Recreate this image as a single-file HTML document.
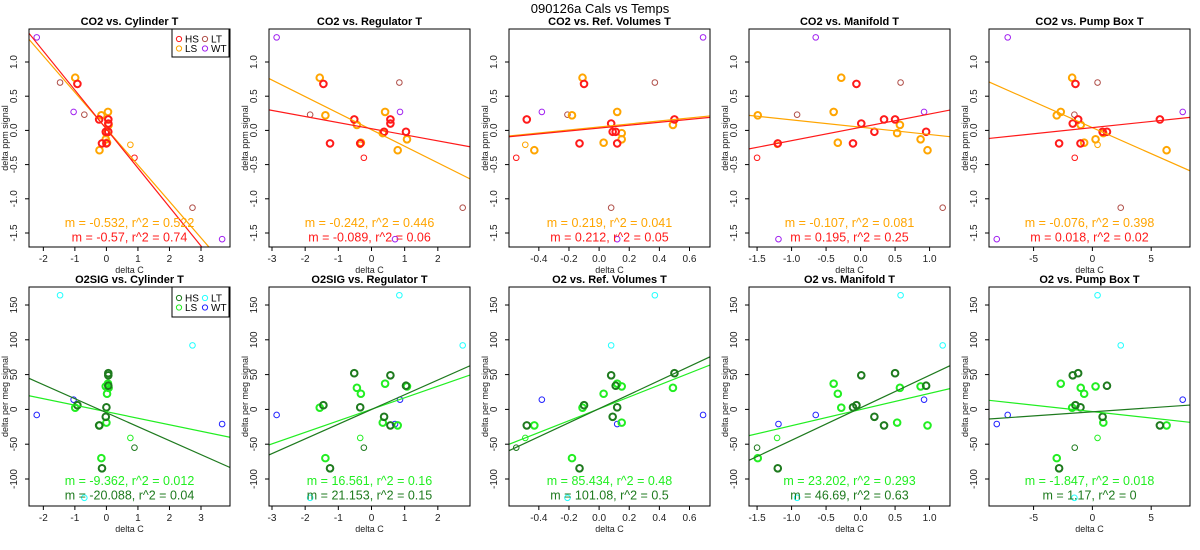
<!DOCTYPE html>
<html><head><meta charset="utf-8"><style>
body{margin:0;background:#fff;}
svg{display:block;font-family:"Liberation Sans",Arial,sans-serif;}
</style></head><body>
<svg id="chart" width="1200" height="550" viewBox="0 0 1200 550">
<text x="600" y="13" text-anchor="middle" font-size="13">090126a   Cals vs Temps</text>
</svg>
<script>
// ---- data ----
const temps = ["Cylinder T","Regulator T","Ref. Volumes T","Manifold T","Pump Box T"];
const xDomains = [[-2.455,3.92],[-3.09,2.97],[-0.598,0.736],[-1.617,1.296],[-8.79,8.30]];
const xTicks = [[-2,-1,0,1,2,3],[-3,-2,-1,0,1,2],[-0.4,-0.2,0,0.2,0.4,0.6],[-1.5,-1,-0.5,0,0.5,1],[-5,0,5]];
const xTickDigits = [0,0,1,1,0];
const topTitles = ["CO2 vs. Cylinder T","CO2 vs. Regulator T","CO2 vs. Ref. Volumes T","CO2 vs. Manifold T","CO2 vs. Pump Box T"];
const botTitles = ["O2SIG vs. Cylinder T","O2SIG vs. Regulator T","O2 vs. Ref. Volumes T","O2 vs. Manifold T","O2 vs. Pump Box T"];
const hsX = [
 [0.06,0.06,-0.92,0.0,-0.02,-0.23,-0.14,0.06],
 [-0.52,0.57,-1.45,-0.34,0.38,0.57,-1.25,1.04],
 [0.50,0.08,-0.10,0.12,0.09,-0.48,-0.13,0.11],
 [0.50,0.01,-0.06,-0.11,0.20,0.34,-1.20,0.95],
 [-1.21,-1.67,-1.44,-1.01,0.87,5.74,-2.83,1.24]];
const hsCO2 = [0.16,0.10,0.68,-0.19,-0.02,0.16,-0.19,-0.02];
const hsO2 = [52,49,6,3,-10.6,-23,-84.6,34];
const lsX = [
 [-0.99,-0.16,0.05,0.07,0.00,0.02,-0.02,-0.22],
 [-1.56,-1.39,0.41,-0.44,0.34,-0.32,1.07,0.79],
 [-0.11,-0.18,0.12,0.49,0.15,0.03,0.15,-0.43],
 [-0.28,-1.49,-0.39,0.57,0.53,-0.33,0.87,0.97],
 [-1.72,-3.03,-2.69,-0.99,0.93,-0.70,0.27,6.31]];
const lsCO2 = [0.77,0.22,0.27,0.08,-0.04,-0.18,-0.13,-0.29];
const lsO2 = [2.5,-70,37,31,-19,22.5,33,-23];
const thinGroup = ["LT","LT","LT","WT","WT","WT","HSt","LSt"];
const thinX = [
 [-1.47,-0.70,2.73,-2.21,-1.04,3.67,0.89,0.76],
 [0.84,-1.85,2.75,-2.86,0.86,0.71,-0.23,-0.34],
 [0.37,-0.21,0.08,0.69,-0.38,0.12,-0.55,-0.49],
 [0.58,-0.92,1.19,-0.65,0.92,-1.19,-1.50,-1.21],
 [0.44,-1.53,2.41,-7.2,7.68,-8.13,-1.5,0.44]];
const thinCO2 = [0.70,0.23,-1.13,1.36,0.27,-1.59,-0.40,-0.21];
const thinO2 = [164,-127,92,-8,14,-21,-55,-41];
const co2HSslope = [-0.57,-0.089,0.212,0.195,0.018];
const co2HSint = [0.02,0.025,0.034,0.045,0.041];
const co2LSslope = [-0.532,-0.242,0.219,-0.107,-0.076];
const co2LSint = [0.025,0.01,0.05,0.047,0.04];
const co2HSr2 = ["0.74","0.06","0.05","0.25","0.02"];
const co2LSr2 = ["0.522","0.446","0.041","0.081","0.398"];
const o2HSslope = [-20.088,21.153,101.08,46.69,1.17];
const o2HSint = [-4.7,-0.1,1.1,2.3,-3.5];
const o2LSslope = [-9.362,16.561,85.434,23.202,-1.847];
const o2LSint = [-3.3,0.2,0.9,-0.2,-3.2];
const o2HSr2 = ["0.04","0.15","0.5","0.63","0"];
const o2LSr2 = ["0.012","0.16","0.48","0.293","0.018"];
const topYTicks = [-1.5,-1,-0.5,0,0.5,1];
const botYTicks = [-100,-50,0,50,100,150];

// ---- rendering ----
const NS="http://www.w3.org/2000/svg";
const svg=document.getElementById('chart');
function mk(tag,attrs,parent){const e=document.createElementNS(NS,tag);for(const k in attrs)e.setAttribute(k,attrs[k]);(parent||svg).appendChild(e);return e;}
const BOXW=201;
const rows=[
 {top:29,bot:247,yAt:v=>130.4-68.4*v,ticks:topYTicks,dig:1,ylab:"delta ppm signal",
  titles:topTitles,hsY:hsCO2,lsY:lsCO2,thY:thinCO2,hsS:co2HSslope,hsI:co2HSint,lsS:co2LSslope,lsI:co2LSint,hsR:co2HSr2,lsR:co2LSr2,
  cHS:"#ff1a1a",cLS:"#ffa500",cLT:"#b0504a",cWT:"#a020f0",txt1:227,txt2:241.5,tickLab:262,xlab:273,legH:28,lab:["HS","LS","LT","WT"]},
 {top:287,bot:506,yAt:v=>409.4-0.696*v,ticks:botYTicks,dig:0,ylab:"delta per meg signal",
  titles:botTitles,hsY:hsO2,lsY:lsO2,thY:thinO2,hsS:o2HSslope,hsI:o2HSint,lsS:o2LSslope,lsI:o2LSint,hsR:o2HSr2,lsR:o2LSr2,
  cHS:"#1e7a1e",cLS:"#22ee22",cLT:"#22ffff",cWT:"#2222ff",txt1:485,txt2:499.5,tickLab:521,xlab:532,legH:30,lab:["HS","LS","LT","WT"]}
];
function fmt(v,d){return v.toFixed(d);}
rows.forEach((r,ri)=>{
 for(let p=0;p<5;p++){
  const L=29+240*p, xd=xDomains[p];
  const xAt=v=>L+(v-xd[0])/(xd[1]-xd[0])*BOXW;
  const g=mk('g',{});
  
  
  const cid='clip'+ri+p;
  const cp=mk('clipPath',{id:cid},g);mk('rect',{x:L,y:r.top,width:BOXW,height:r.bot-r.top},cp);
  const t=mk('text',{x:L+BOXW/2,y:r.top-4,'text-anchor':'middle','font-size':11,'font-weight':'bold'},g);
  t.textContent=r.titles[p];
  
  
  r.ticks.forEach(v=>{const y=r.yAt(v);
   mk('line',{x1:L-4,x2:L,y1:y,y2:y,stroke:'#000','stroke-width':1},g);
   const tl=mk('text',{x:L-12,y:y,'font-size':10,'text-anchor':'middle',fill:'#222',transform:`rotate(-90 ${L-12} ${y})`},g);
   tl.textContent=fmt(v,r.dig);
   
   
  });
  const yl=mk('text',{x:L-21,y:(r.top+r.bot)/2,'font-size':9,'text-anchor':'middle',fill:'#222',transform:`rotate(-90 ${L-21} ${(r.top+r.bot)/2})`},g);
  yl.textContent=r.ylab;
  
  
  xTicks[p].forEach(v=>{const x=xAt(v);
   mk('line',{x1:x,x2:x,y1:r.bot,y2:r.bot+4,stroke:'#000','stroke-width':1},g);
   const tl=mk('text',{x:x,y:r.tickLab,'font-size':10,'text-anchor':'middle',fill:'#222'},g);
   tl.textContent=fmt(v,xTickDigits[p]);
   
   
  });
  const xl=mk('text',{x:L+BOXW/2,y:r.xlab,'font-size':9,'text-anchor':'middle',fill:'#222'},g);
  xl.textContent="delta C";
  
  
  const pg=mk('g',{'clip-path':`url(#${cid})`},g);
  thinX[p].forEach((xv,i)=>{
   const grp=thinGroup[i];
   const col=grp==="LT"?r.cLT:grp==="WT"?r.cWT:grp==="HSt"?r.cHS:r.cLS;
   const c=mk('circle',{cx:xAt(xv),cy:r.yAt(r.thY[i]),r:2.8,fill:'none',stroke:col,'stroke-width':1},pg);
   
   
  });
  lsX[p].forEach((xv,i)=>{
   const c=mk('circle',{cx:xAt(xv),cy:r.yAt(r.lsY[i]),r:3.3,fill:'none',stroke:r.cLS,'stroke-width':2},pg);
   
   
  });
  hsX[p].forEach((xv,i)=>{
   const c=mk('circle',{cx:xAt(xv),cy:r.yAt(r.hsY[i]),r:3.3,fill:'none',stroke:r.cHS,'stroke-width':2},pg);
   
   
  });
  [[r.lsS[p],r.lsI[p],r.cLS,'fit-line-ls'],[r.hsS[p],r.hsI[p],r.cHS,'fit-line-hs']].forEach(f=>{
   const ln=mk('line',{x1:xAt(xd[0]),y1:r.yAt(f[1]+f[0]*xd[0]),x2:xAt(xd[1]),y2:r.yAt(f[1]+f[0]*xd[1]),stroke:f[2],'stroke-width':1.2},pg);
   
   
  });
  const a1=mk('text',{x:L+BOXW/2,y:r.txt1,'font-size':12.5,'text-anchor':'middle',fill:r.cLS},g);
  a1.textContent=`m = ${r.lsS[p]}, r^2 = ${r.lsR[p]}`;
  
  
  const a2=mk('text',{x:L+BOXW/2,y:r.txt2,'font-size':12.5,'text-anchor':'middle',fill:r.cHS},g);
  a2.textContent=`m = ${r.hsS[p]}, r^2 = ${r.hsR[p]}`;
  
  
  mk('rect',{x:L,y:r.top,width:BOXW,height:r.bot-r.top,fill:'none',stroke:'#000','stroke-width':1},g);
  if(p===0){
   const lg=mk('g',{},g);
   
   
   mk('rect',{x:172,y:r.top,width:57,height:r.legH,fill:'#fff',stroke:'#000','stroke-width':1},lg);
   const cols=[r.cHS,r.cLS,r.cLT,r.cWT];
   const pos=[[179,10],[179,19.5],[205,10],[205,19.5]];
   r.lab.forEach((lb,i)=>{
    const cy=r.top+pos[i][1]+(ri?1:0);
    mk('circle',{cx:pos[i][0],cy:cy,r:2.6,fill:'none',stroke:cols[i],'stroke-width':1},lg);
    const lt=mk('text',{x:pos[i][0]+6,y:cy+3.5,'font-size':10},lg);
    lt.textContent=lb;
    
    
   });
  }
 }
});
</script>
</body></html>
